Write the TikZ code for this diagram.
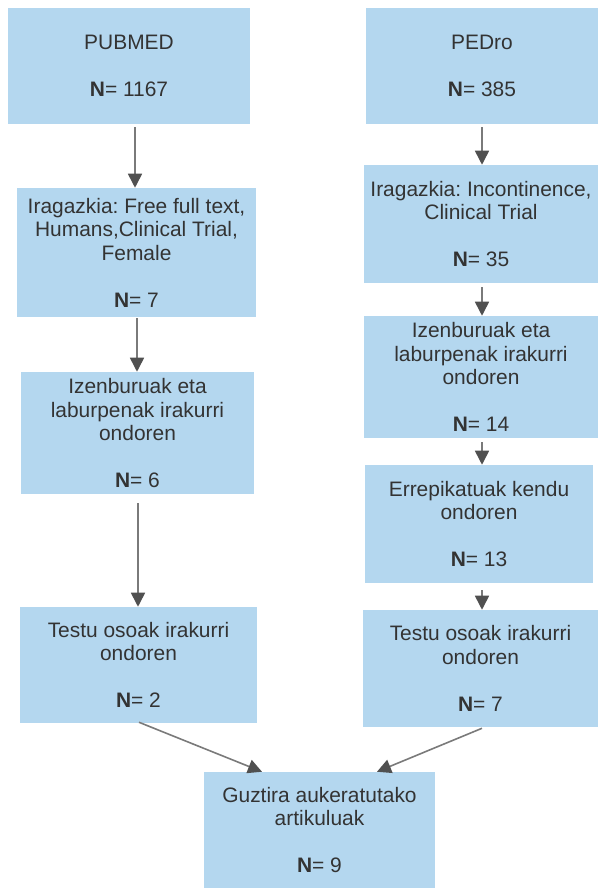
\documentclass[tikz,border=0pt]{standalone}
\usepackage{fontspec}
\setmainfont{Liberation Sans}
\usetikzlibrary{arrows.meta}
\definecolor{boxfill}{HTML}{B4D7EF}
\definecolor{txt}{HTML}{333333}
\definecolor{linec}{HTML}{7A7A7A}
\definecolor{headc}{HTML}{505050}
\tikzset{
  box/.style={fill=boxfill, draw=none, inner sep=0pt, align=center, text=txt,
    font=\fontsize{15.7}{17.6}\selectfont\frenchspacing},
  arr/.style={draw=linec, line width=1.2pt,
    -{Triangle[length=10.5pt,width=10.5pt,fill=headc,color=headc]}}
}
\newcommand{\nn}[1]{\textbf{N}= #1}
\begin{document}
\begin{tikzpicture}[x=0.75pt,y=-0.75pt]
\useasboundingbox (0,0) rectangle (604,888);
% left column
\node[box, minimum width=242*0.75pt, minimum height=116*0.75pt] (L1) at (129,66)
  {PUBMED\\[17.6pt]\nn{1167}};
\node[box, minimum width=239*0.75pt, minimum height=129*0.75pt] (L2) at (136.5,252.5)
  {Iragazkia: Free full text,\\Humans,Clinical Trial,\\Female\\[17.6pt]\nn{7}};
\node[box, minimum width=233*0.75pt, minimum height=122*0.75pt] (L3) at (137.5,433)
  {Izenburuak eta\\laburpenak irakurri\\ondoren\\[17.6pt]\nn{6}};
\node[box, minimum width=237*0.75pt, minimum height=116*0.75pt] (L4) at (138.5,665)
  {Testu osoak irakurri\\ondoren\\[17.6pt]\nn{2}};
% right column
\node[box, minimum width=232*0.75pt, minimum height=116*0.75pt] (R1) at (482,66)
  {PEDro\\[17.6pt]\nn{385}};
\node[box, minimum width=234*0.75pt, minimum height=118*0.75pt] (R2) at (481,224)
  {Iragazkia: Incontinence,\\Clinical Trial\\[17.6pt]\nn{35}};
\node[box, minimum width=234*0.75pt, minimum height=122*0.75pt] (R3) at (481,377)
  {Izenburuak eta\\laburpenak irakurri\\ondoren\\[17.6pt]\nn{14}};
\node[box, minimum width=228*0.75pt, minimum height=118*0.75pt] (R4) at (479,524)
  {Errepikatuak kendu\\ondoren\\[17.6pt]\nn{13}};
\node[box, minimum width=235*0.75pt, minimum height=117*0.75pt] (R5) at (480.5,668.5)
  {Testu osoak irakurri\\ondoren\\[17.6pt]\nn{7}};
% final
\node[box, minimum width=231*0.75pt, minimum height=116*0.75pt] (F) at (319.5,830)
  {Guztira aukeratutako\\artikuluak\\[17.6pt]\nn{9}};
% arrows
\draw[arr] ([shift={(6,3)}]L1.south) -- ([shift={(-1.5,0)}]L2.north);
\draw[arr] ([shift={(0.5,1)}]L2.south) -- ([shift={(-0.5,0)}]L3.north);
\draw[arr] ([shift={(0.5,9)}]L3.south) -- ([shift={(-0.5,0)}]L4.north);
\draw[arr] ([shift={(0,3)}]R1.south) -- ([shift={(1,0)}]R2.north);
\draw[arr] ([shift={(1,4)}]R2.south) -- ([shift={(1,0)}]R3.north);
\draw[arr] ([shift={(1,4)}]R3.south) -- ([shift={(3,0)}]R4.north);
\draw[arr] ([shift={(3,7)}]R4.south) -- ([shift={(1.5,0)}]R5.north);
\draw[arr] ([shift={(0.5,-1)}]L4.south) -- ([shift={(-57.5,0)}]F.north);
\draw[arr] ([shift={(1.5,1)}]R5.south) -- ([shift={(57.5,0)}]F.north);
\end{tikzpicture}
\end{document}
